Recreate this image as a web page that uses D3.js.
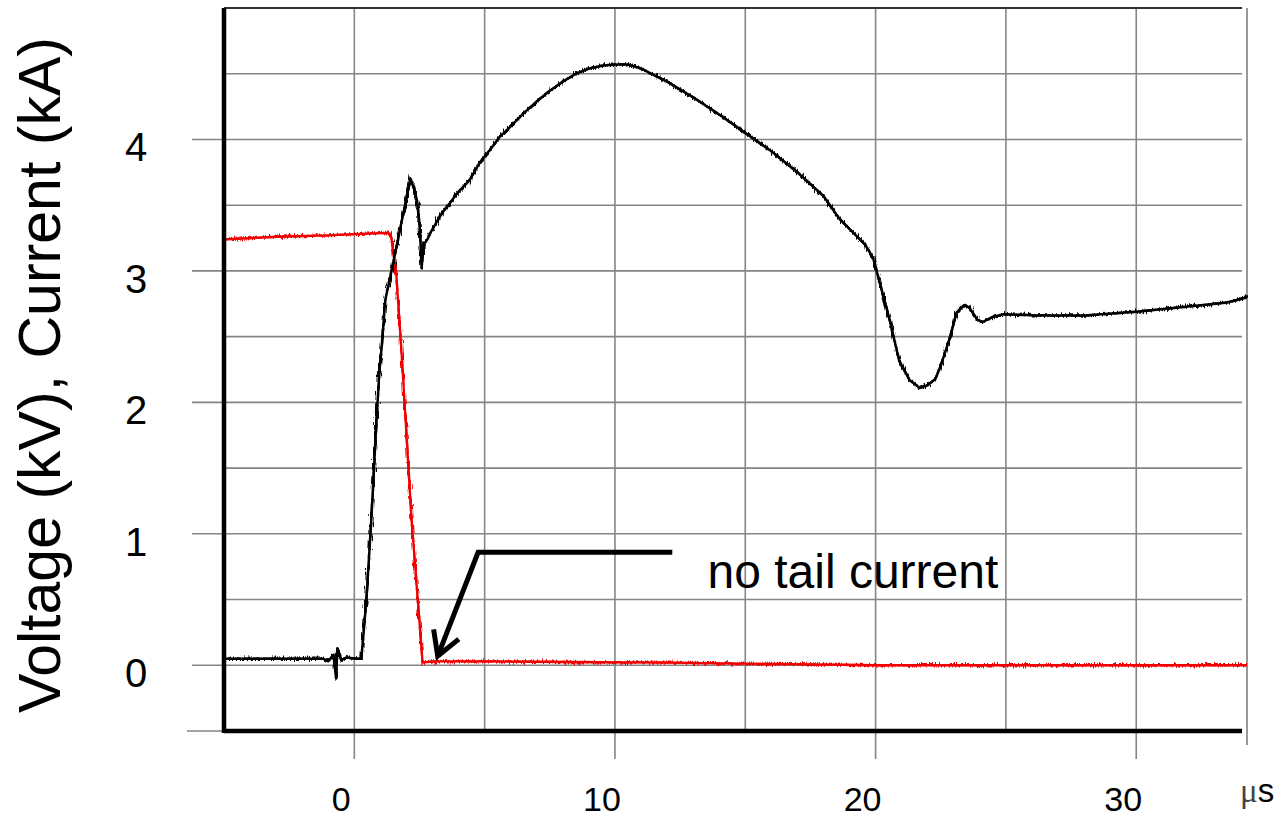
<!DOCTYPE html>
<html>
<head>
<meta charset="utf-8">
<style>
  body { margin: 0; background: #fff; }
  svg { display: block; font-family: "Liberation Sans", Arial, sans-serif; }
</style>
</head>
<body>
<div id="graphic"></div>
<script src="https://d3js.org/d3.v7.min.js"></script>
<script>
// tick / grid values
var xTicks = [0, 10, 20, 30];
var xGrid = [0, 5, 10, 15, 20, 25, 30];
var yTicks = [0, 1, 2, 3, 4];
var yGrid = [0, 0.5, 1, 1.5, 2, 2.5, 3, 3.5, 4, 4.5];

// voltage trace (black)
var voltTime = [-5, -1.2, -1.0, -0.8, -0.7, -0.65, -0.5, -0.3, 0.1, 0.27, 0.46, 0.65, 0.81, 0.96, 1.04, 1.19, 1.46,
  1.8, 2.0, 2.15, 2.3, 2.42, 2.52, 2.58, 2.66, 2.8, 2.95, 3.15, 3.4, 3.65, 3.9, 4.42, 4.8, 5.2, 5.58, 6, 6.5, 7, 7.5,
  8, 8.5, 9, 9.5, 10, 10.5, 11, 11.5, 12, 13, 14, 15, 16, 17, 18, 18.6, 19.2, 19.6, 19.9, 20.2, 20.55, 20.9, 21.3,
  21.7, 22.0, 22.3, 22.5, 22.85, 23.1, 23.4, 23.6, 23.9, 24.1, 24.5, 24.9, 26.3, 28, 30, 32, 33.5, 34.25];
var voltValue = [0.05, 0.05, 0.03, 0.08, -0.1, 0.13, 0.04, 0.06, 0.05, 0.05, 0.49, 1.1, 1.71, 2.24, 2.4, 2.78, 3.03,
  3.36, 3.55, 3.70, 3.62, 3.52, 3.3, 3.02, 3.2, 3.24, 3.3, 3.37, 3.45, 3.51, 3.58, 3.69, 3.82, 3.92, 4.02, 4.1, 4.2,
  4.29, 4.37, 4.44, 4.5, 4.54, 4.56, 4.57, 4.57, 4.54, 4.49, 4.44, 4.32, 4.19, 4.05, 3.91, 3.75, 3.57, 3.4, 3.28,
  3.2, 3.1, 2.88, 2.62, 2.32, 2.17, 2.11, 2.13, 2.18, 2.28, 2.49, 2.68, 2.74, 2.72, 2.63, 2.61, 2.65, 2.67, 2.66,
  2.66, 2.69, 2.73, 2.76, 2.8];

// current trace (red)
var currTime = [-5, -3, -1, 0, 1.3, 1.42, 1.6, 1.8, 2.2, 2.62, 3, 5, 8, 12, 16, 20, 25, 30, 34.25];
var currValue = [3.24, 3.26, 3.27, 3.28, 3.29, 3.25, 3.0, 2.42, 1.1, 0.02, 0.03, 0.03, 0.025, 0.02, 0.01, 0.0, 0.0, 0.0, 0.0];

// annotation anchor points (data units)
var noteCorner = [4.75, 0.86], noteEnd = [12.2, 0.86], noteTip = [3.2, 0.07];

var W = 1281, H = 820;
var svg = d3.select("#graphic").append("svg")
  .attr("width", W)
  .attr("height", H);

var x = d3.scaleLinear().domain([-5, 34.25]).range([224, 1247]);
var y = d3.scaleLinear().domain([-0.5, 5]).range([731, 8]);

// scope noise look on the traces
var defs = svg.append("defs");
var f = defs.append("filter").attr("id", "jit")
  .attr("x", "-2%").attr("y", "-10%").attr("width", "104%").attr("height", "120%");
f.append("feTurbulence").attr("type", "fractalNoise").attr("baseFrequency", "0.9 0.1")
  .attr("numOctaves", 2).attr("seed", 4).attr("result", "n");
f.append("feDisplacementMap").attr("in", "SourceGraphic").attr("in2", "n")
  .attr("scale", 7).attr("xChannelSelector", "R").attr("yChannelSelector", "G");

var gridColor = "#858585";
var xR = x.range()[1] - 5;

// horizontal grid
svg.append("g").selectAll("line").data(yGrid).enter().append("line")
  .attr("x1", function (d) { return yTicks.indexOf(d) >= 0 ? x(-5) - 32 : x(-5); })
  .attr("x2", xR)
  .attr("y1", function (d) { return y(d); })
  .attr("y2", function (d) { return y(d); })
  .attr("stroke", gridColor).attr("stroke-width", 1.6);

// vertical grid
svg.append("g").selectAll("line").data(xGrid).enter().append("line")
  .attr("x1", function (d) { return x(d); })
  .attr("x2", function (d) { return x(d); })
  .attr("y1", y(5))
  .attr("y2", function (d) { return xTicks.indexOf(d) >= 0 ? y(-0.5) + 28 : y(-0.5); })
  .attr("stroke", gridColor).attr("stroke-width", 1.6);

// right edge and bottom extension of grid
svg.append("line")
  .attr("x1", x(34.25)).attr("x2", x(34.25))
  .attr("y1", y(5)).attr("y2", y(-0.5) + 14)
  .attr("stroke", "#999").attr("stroke-width", 2);
svg.append("line")
  .attr("x1", x(-5) - 37).attr("x2", x(-5))
  .attr("y1", y(-0.5)).attr("y2", y(-0.5))
  .attr("stroke", gridColor).attr("stroke-width", 1.6);

// top frame
svg.append("line")
  .attr("x1", x(-5)).attr("x2", xR)
  .attr("y1", y(5)).attr("y2", y(5))
  .attr("stroke", "#333").attr("stroke-width", 2);

var line = d3.line()
  .x(function (d) { return x(d[0]); })
  .y(function (d) { return y(d[1]); });

var traces = [
  { data: d3.zip(currTime, currValue), color: "#f00000", w: 2.3 },
  { data: d3.zip(voltTime, voltValue), color: "#000", w: 2.5 }
];

traces.forEach(function (t) {
  // solid core
  svg.append("path")
    .datum(t.data)
    .attr("d", line)
    .attr("fill", "none")
    .attr("stroke", t.color)
    .attr("stroke-width", t.w)
    .attr("stroke-linejoin", "round");
  // jagged copy for the noisy look
  svg.append("path")
    .datum(t.data)
    .attr("d", line)
    .attr("fill", "none")
    .attr("stroke", t.color)
    .attr("stroke-width", t.w)
    .attr("filter", "url(#jit)");
});

// thick axes
svg.append("line")
  .attr("x1", x(-5)).attr("x2", x(-5))
  .attr("y1", y(5)).attr("y2", y(-0.5) + 2)
  .attr("stroke", "#000").attr("stroke-width", 4.5);
svg.append("line")
  .attr("x1", x(-5)).attr("x2", xR)
  .attr("y1", y(-0.5)).attr("y2", y(-0.5))
  .attr("stroke", "#000").attr("stroke-width", 4.5);

// tick labels
svg.append("g").selectAll("text").data(yTicks).enter().append("text")
  .attr("x", 136)
  .attr("y", function (d) { return y(d) + 22; })
  .attr("text-anchor", "middle")
  .style("font-size", "40px")
  .text(function (d) { return d; });

svg.append("g").selectAll("text").data(xTicks).enter().append("text")
  .attr("x", function (d) { return x(d) - 13; })
  .attr("y", 811)
  .attr("text-anchor", "middle")
  .style("font-size", "34px")
  .text(function (d) { return d; });

var unit = svg.append("text")
  .attr("x", 1240)
  .attr("y", 802)
  .style("font-size", "33px");
unit.append("tspan").style("font-family", "'Liberation Serif', serif").attr("fill", "#444").text("\u03bc");
unit.append("tspan").text("s");

// y title
svg.append("text")
  .attr("transform", "translate(60,375) rotate(-90)")
  .attr("text-anchor", "middle")
  .attr("textLength", 676)
  .attr("lengthAdjust", "spacingAndGlyphs")
  .style("font-size", "60px")
  .text("Voltage (kV), Current (kA)");

// annotation
var cx = x(noteCorner[0]), cy = y(noteCorner[1]);
var tx = x(noteTip[0]), ty = y(noteTip[1]);
svg.append("path")
  .attr("d", "M" + x(noteEnd[0]) + "," + y(noteEnd[1]) + "L" + cx + "," + cy + "L" + tx + "," + ty)
  .attr("fill", "none").attr("stroke", "#000").attr("stroke-width", 5);

var ang = Math.atan2(cy - ty, cx - tx), len = 27, spread = Math.PI / 6;
var a1 = [tx + len * Math.cos(ang - spread), ty + len * Math.sin(ang - spread)];
var a2 = [tx + len * Math.cos(ang + spread), ty + len * Math.sin(ang + spread)];
svg.append("path")
  .attr("d", "M" + a1[0] + "," + a1[1] + "L" + tx + "," + ty + "L" + a2[0] + "," + a2[1])
  .attr("fill", "none").attr("stroke", "#000").attr("stroke-width", 5)
  .attr("stroke-linejoin", "miter");

svg.append("text")
  .attr("x", x(13.55))
  .attr("y", y(0.588))
  .style("font-size", "48px")
  .text("no tail current");
</script>
</body>
</html>
